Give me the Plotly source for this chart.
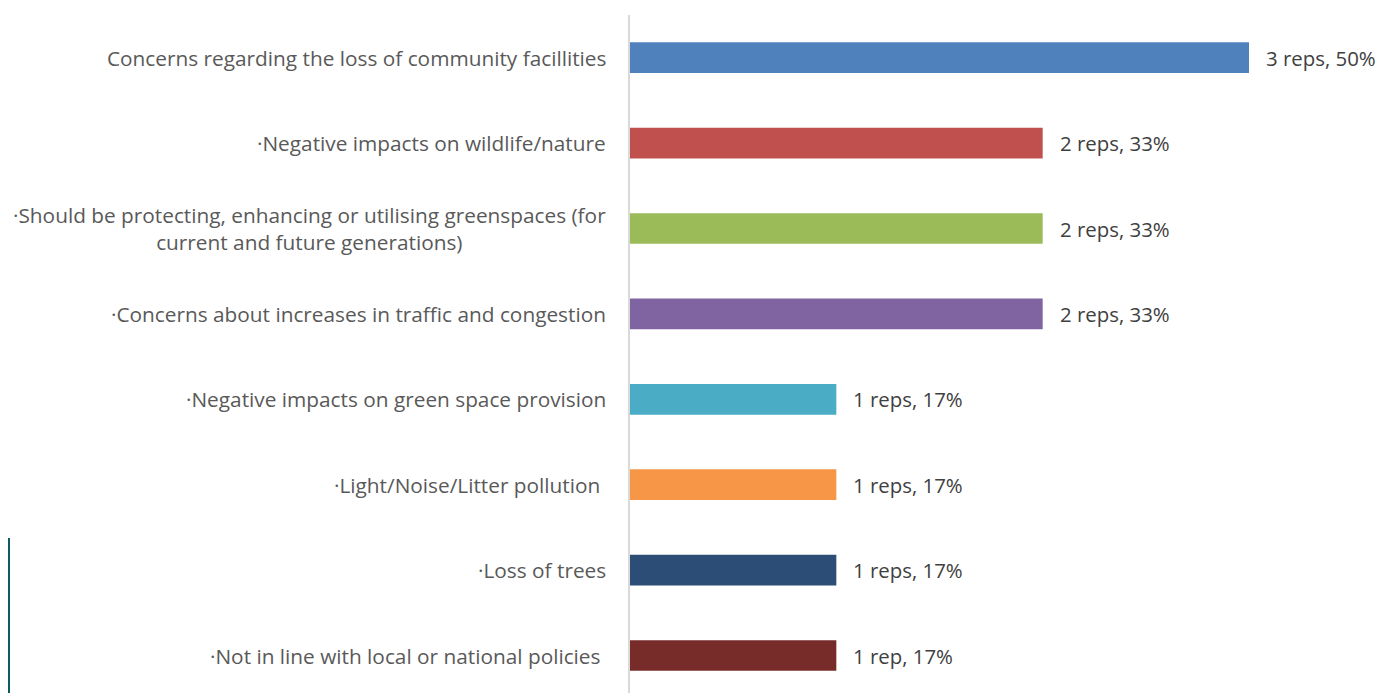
import plotly.graph_objects as go

categories = [
    "Concerns regarding the loss of community facillities",
    "·Negative impacts on wildlife/nature",
    "·Should be protecting, enhancing or utilising greenspaces (for<br>current and future generations)",
    "·Concerns about increases in traffic and congestion",
    "·Negative impacts on green space provision",
    "·Light/Noise/Litter pollution ",
    "·Loss of trees",
    "·Not in line with local or national policies ",
]
reps = [3, 2, 2, 2, 1, 1, 1, 1]
total_reps = 6
shares = [r / total_reps for r in reps]
value_labels = ["3 reps, 50%", "2 reps, 33%", "2 reps, 33%", "2 reps, 33%",
                "1 reps, 17%", "1 reps, 17%", "1 reps, 17%", "1 rep, 17%"]
colors = ["#4F81BD", "#C0504D", "#9BBB59", "#8064A2",
          "#4BACC6", "#F79646", "#2C4D75", "#772C2A"]

# page has an 8px body margin: figure starts at (8, 8) in the window
OFF = 8
W, H = 1384 - OFF, 693 - OFF
ML, MR, MT, MB = 630 - OFF, 0, 15 - OFF, 0
PW, PH = W - ML - MR, H - MT - MB
FONT = "Open Sans"

fig = go.Figure(go.Bar(
    x=shares, y=list(range(len(categories))), orientation="h",
    marker=dict(color=colors, line=dict(width=0)),
    hoverinfo="skip",
))

ann = []
for i, (c, s, lab) in enumerate(zip(categories, shares, value_labels)):
    ann.append(dict(x=0, y=i, xref="x", yref="y", text=c, showarrow=False,
                    xanchor="right", yanchor="middle", align="center", xshift=-22,
                    font=dict(family=FONT, size=20.8, color="#595959")))
    ann.append(dict(x=s, y=i, xref="x", yref="y", text=lab, showarrow=False,
                    xanchor="left", yanchor="middle", xshift=15,
                    font=dict(family=FONT, size=20.4, color="#404040")))

# stray border marks at the left edge of the original screenshot
def px(xp):
    return (xp - OFF - ML) / PW
def py(yp):
    return (H - MB - (yp - OFF)) / PH

shapes = []
teal = "#0B5B62"
for yy in [539, 622]:
    shapes.append(dict(type="line", xref="paper", yref="paper",
                       x0=px(8), x1=px(10), y0=py(yy), y1=py(yy),
                       line=dict(color=teal, width=2)))
shapes.append(dict(type="line", xref="paper", yref="paper",
                   x0=px(9), x1=px(9), y0=py(539), y1=py(693),
                   line=dict(color=teal, width=2)))

fig.update_layout(
    width=W, height=H,
    margin=dict(l=ML, r=MR, t=MT, b=MB),
    paper_bgcolor="white", plot_bgcolor="white",
    showlegend=False, bargap=0.64,
    xaxis=dict(range=[0, PW / 1238], showgrid=False, zeroline=False,
               showticklabels=False, showline=False, fixedrange=True),
    yaxis=dict(range=[PH / 85.4 - 0.5, -0.5],
               showgrid=False, zeroline=False, showticklabels=False,
               showline=True, linecolor="#D9D9D9", linewidth=2, ticks=""),
    annotations=ann, shapes=shapes,
)
fig.write_html("out.html")
